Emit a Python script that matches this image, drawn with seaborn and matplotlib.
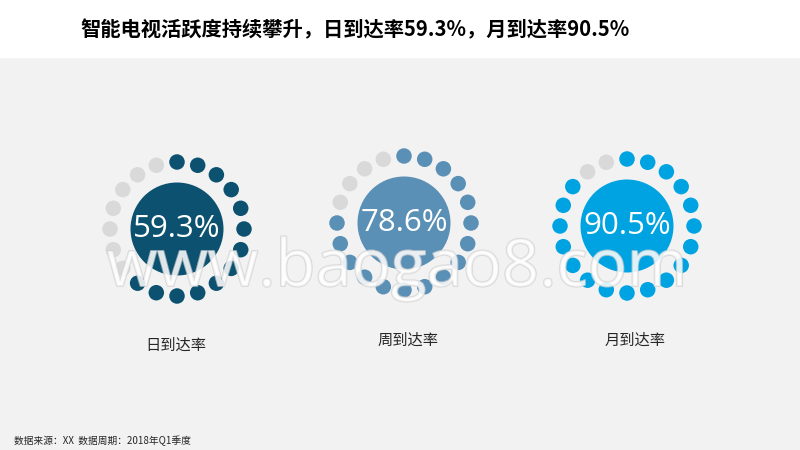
import numpy as np
import pandas as pd
import matplotlib
matplotlib.use("Agg")
import matplotlib.pyplot as plt
import matplotlib.patheffects as pe
import seaborn as sns

# ---- data ----
categories = ["日到达率", "周到达率", "月到达率"]
values = [59.3, 78.6, 90.5]
value_labels = ["59.3%", "78.6%", "90.5%"]
filled_dots = [13, 16, 18]          # dark dots in each 20-dot ring
total_dots = 20
title = "智能电视活跃度持续攀升，日到达率59.3%，月到达率90.5%"
footer = "数据来源：XX  数据周期：2018年Q1季度"
watermark = "www.baogao8.com"

# ---- style ----
sns.set_theme(style="white")
plt.rcParams["font.family"] = ["Noto Sans CJK SC", "DejaVu Sans"]

ring_colors = ["#0c5270", "#5a8fb6", "#00a3e2"]
gray_dot = "#d9d9d9"
centers = [(177, 229), (404, 223), (627, 226)]
ring_r = 67
label_y = [345, 340, 340]
label_x = [176, 408, 635]

fig = plt.figure(figsize=(8, 4.5), dpi=100)
fig.patch.set_facecolor("#f2f2f2")
ax = fig.add_axes([0, 0, 1, 1])
ax.set_facecolor("#f2f2f2")
ax.axhspan(0, 57, color="white", zorder=0)

# dots dataframe
rows = []
for i, cat in enumerate(categories):
    cx, cy = centers[i]
    for k in range(total_dots):
        a = np.deg2rad(k * 360 / total_dots)
        rows.append({
            "cat": cat,
            "x": cx + ring_r * np.sin(a),
            "y": cy - ring_r * np.cos(a),
            "key": cat if k < filled_dots[i] else "gray",
        })
dots = pd.DataFrame(rows)
palette = {c: col for c, col in zip(categories, ring_colors)}
palette["gray"] = gray_dot

px2pt = 72 / 100
sns.scatterplot(data=dots, x="x", y="y", hue="key", palette=palette,
                s=(15.5 * px2pt) ** 2, linewidth=0, legend=False, ax=ax, zorder=2)

big = pd.DataFrame({"cat": categories,
                    "x": [c[0] for c in centers],
                    "y": [c[1] for c in centers],
                    "val": values})
sns.scatterplot(data=big, x="x", y="y", hue="cat", palette=palette,
                s=(93 * px2pt) ** 2, linewidth=0, legend=False, ax=ax, zorder=2)
ax.set_xlim(0, 800)
ax.set_ylim(450, 0)
ax.axis("off")

for i in range(len(categories)):
    cx, cy = centers[i]
    ax.text(cx, cy, value_labels[i], color="white", fontsize=22.5,
            family=["Open Sans", "DejaVu Sans"], ha="center", va="center", zorder=3)
    ax.text(label_x[i], label_y[i], categories[i], color="#262626", fontsize=11,
            ha="center", va="center", zorder=3)

ax.text(80, 30, title, fontsize=14.6, fontweight="bold", color="black",
        ha="left", va="center")
ax.text(14, 441, footer, fontsize=7, color="#262626", ha="left", va="center")

# watermark
ax.text(397, 286, watermark, fontsize=47, family=["Open Sans", "DejaVu Sans"],
        color="white", alpha=0.55, ha="center", va="baseline", zorder=4,
        path_effects=[pe.withStroke(linewidth=1.4, foreground="#d0d0d0", alpha=0.7)])

fig.savefig("out.png", dpi=100, facecolor=fig.get_facecolor())
